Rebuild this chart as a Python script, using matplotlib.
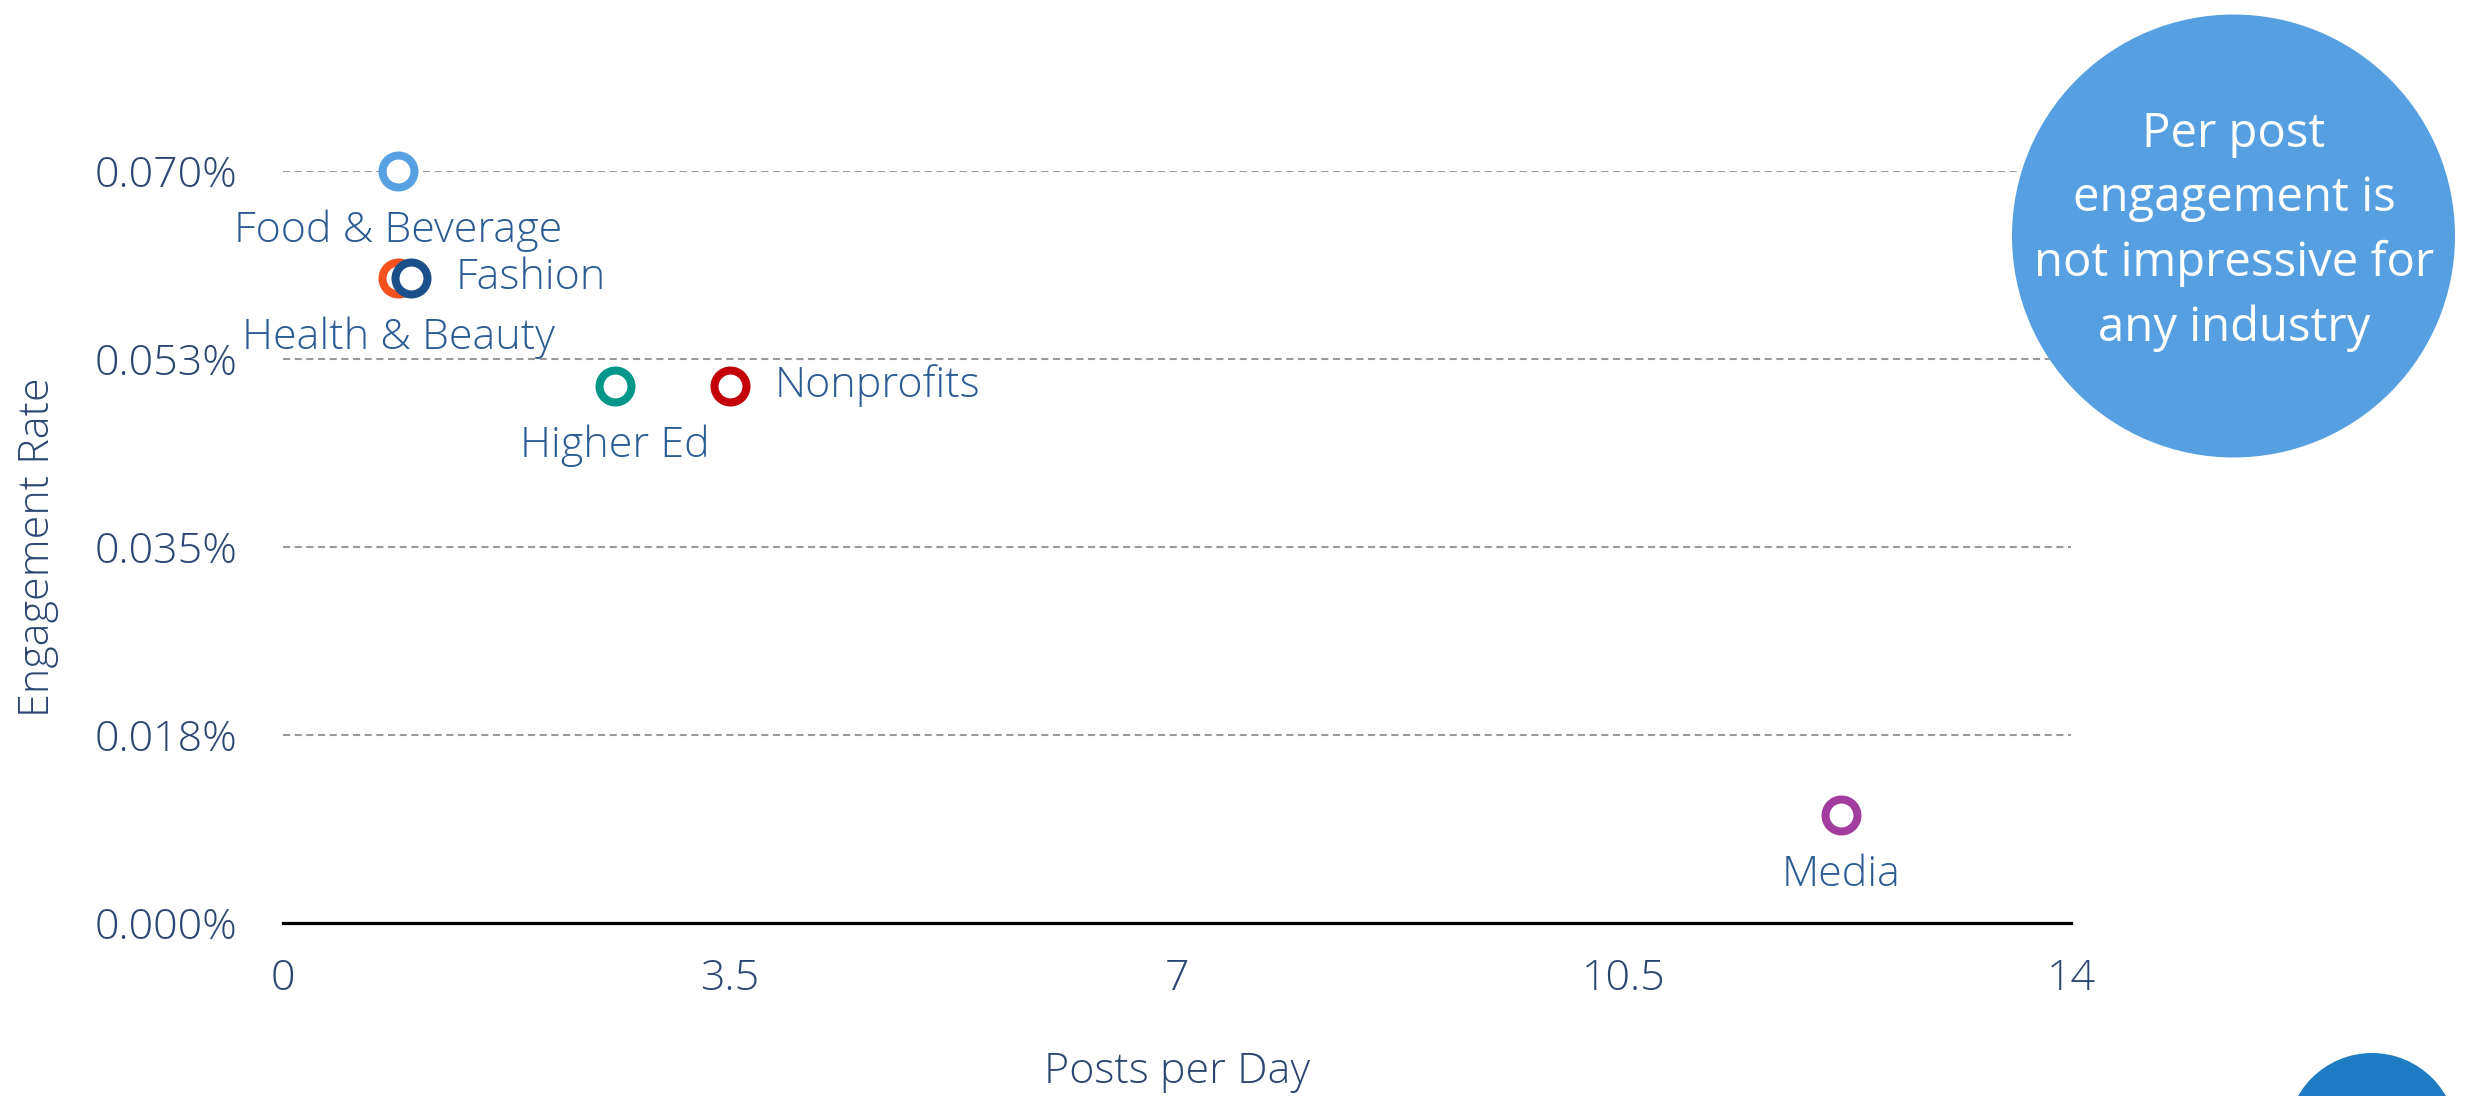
import matplotlib
matplotlib.use("Agg")
import matplotlib.pyplot as plt
from matplotlib.patches import Ellipse

# ---- data ----
industries = ["Food & Beverage", "Health & Beauty", "Fashion", "Higher Ed", "Nonprofits", "Media"]
posts_per_day = [0.9, 0.9, 1.0, 2.6, 3.5, 12.2]
engagement_rate = [0.070, 0.060, 0.060, 0.050, 0.050, 0.010]  # percent
x_ticks = [0, 3.5, 7, 10.5, 14]
x_tick_labels = ["0", "3.5", "7", "10.5", "14"]
y_ticks = [0.0, 0.0175, 0.035, 0.0525, 0.070]
y_tick_labels = ["0.000%", "0.018%", "0.035%", "0.053%", "0.070%"]
callout_text = "Per post\nengagement is\nnot impressive for\nany industry"

# ---- style ----
colors = ["#57A1E2", "#F4511E", "#1B4F8A", "#00968A", "#C40008", "#A23C9E"]
label_side = ["below", "below", "right", "below", "right", "below"]
tick_color = "#2B4672"
label_color = "#2A5C93"
FONT = "Open Sans"

W, H = 2473, 1096
fig = plt.figure(figsize=(W / 100, H / 100), dpi=100)
ax = fig.add_axes([283 / W, 1 - 922.7 / H, (2071 - 283) / W, (922.7 - 170.7) / H])

ax.set_xlim(0, 14)
ax.set_ylim(0, 0.070)

for yt in y_ticks[1:]:
    ax.axhline(yt, color="#9A9A9A", lw=1.5, dashes=(3.4, 2.2), zorder=1)

for sp in ["top", "right", "left"]:
    ax.spines[sp].set_visible(False)
ax.spines["bottom"].set_color("black")
ax.spines["bottom"].set_linewidth(2.3)
ax.spines["bottom"].set_zorder(2)

for x, y, c, name, side in zip(posts_per_day, engagement_rate, colors, industries, label_side):
    ax.plot([x], [y], marker="o", ms=23, mew=5.8, mfc="white", mec=c,
            linestyle="none", clip_on=False, zorder=5)
    if side == "below":
        ax.annotate(name, (x, y), xytext=(0, -43), textcoords="offset points",
                    ha="center", va="center", fontsize=31, color=label_color,
                    family=FONT, fontweight="light", zorder=6)
    else:
        ax.annotate(name, (x, y), xytext=(32, 0), textcoords="offset points",
                    ha="left", va="center", fontsize=31, color=label_color,
                    family=FONT, fontweight="light", zorder=6)

ax.set_xticks(x_ticks)
ax.set_xticklabels(x_tick_labels)
ax.set_yticks(y_ticks)
ax.set_yticklabels(y_tick_labels)
ax.tick_params(axis="both", length=0, labelsize=31, labelcolor=tick_color)
ax.tick_params(axis="x", pad=25)
ax.tick_params(axis="y", pad=33)
for lab in ax.get_xticklabels() + ax.get_yticklabels():
    lab.set_family(FONT)
    lab.set_fontweight("light")

fig.text(1177 / W, 1 - 1083 / H, "Posts per Day", ha="center", va="baseline",
         fontsize=31, color=tick_color, family=FONT, fontweight="light")
fig.text(38 / W, 1 - 547 / H, "Engagement Rate", ha="center", va="center",
         rotation=90, fontsize=31, color=tick_color, family=FONT, fontweight="light")

# callout circle
r = 221.5
fig.patches.append(Ellipse((2233.5 / W, 1 - 236 / H), 2 * r / W, 2 * r / H,
                           transform=fig.transFigure, facecolor="#56A0E1",
                           edgecolor="none", zorder=10))
fig.text(2234 / W, 1 - 231 / H, callout_text, ha="center", va="center",
         fontsize=34, color="white", family=FONT, linespacing=1.47, zorder=11)

# bottom-right decorative blob
r2 = 85
fig.patches.append(Ellipse((2372 / W, 1 - 1138 / H), 2 * r2 / W, 2 * r2 / H,
                           transform=fig.transFigure, facecolor="#1E7CC5",
                           edgecolor="none", zorder=10))

fig.savefig("out.png", dpi=100)
